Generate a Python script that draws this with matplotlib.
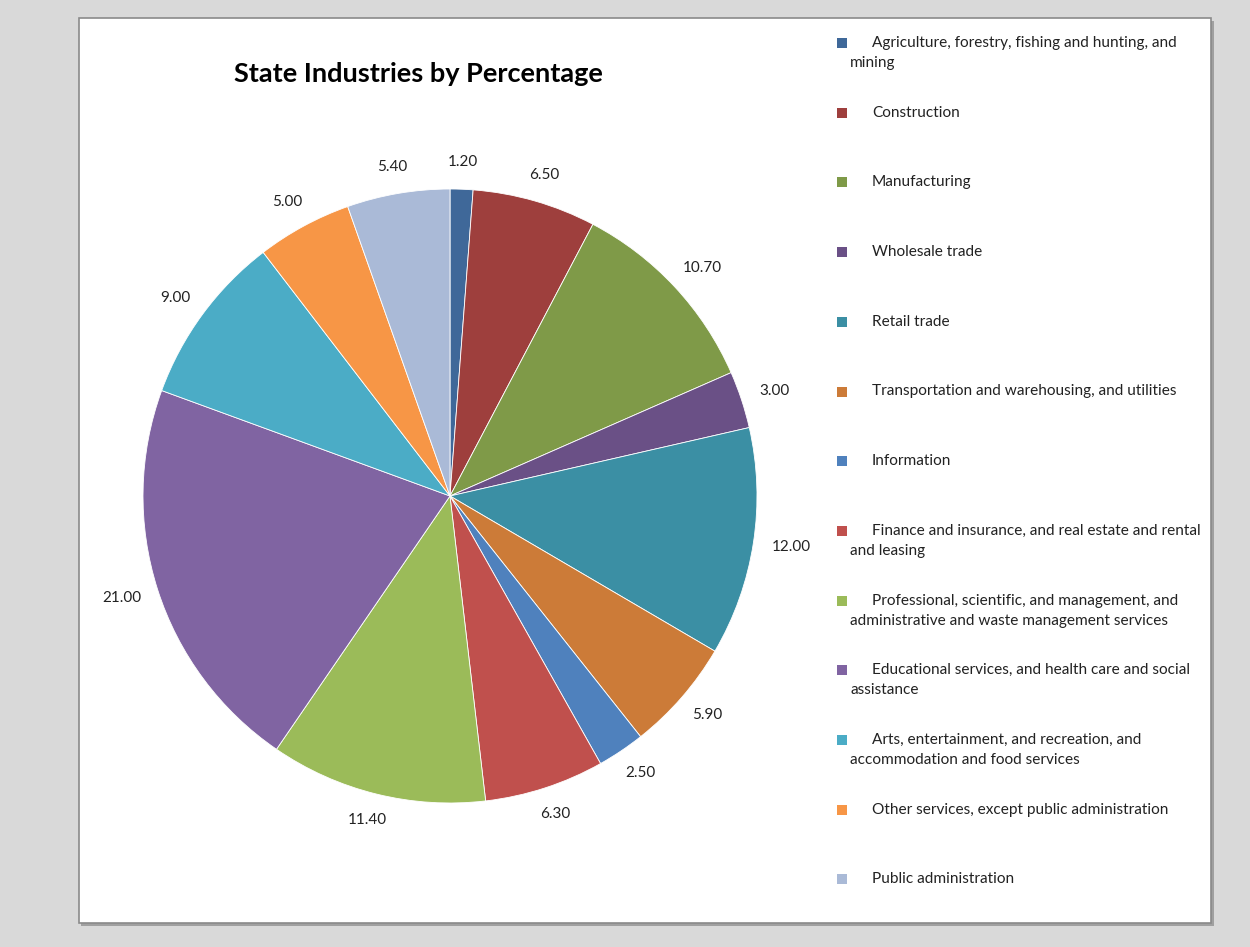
import numpy as np
import matplotlib.pyplot as plt
from matplotlib.patches import Rectangle

# data
industries = [
    "Agriculture, forestry, fishing and hunting, and|mining",
    "Construction",
    "Manufacturing",
    "Wholesale trade",
    "Retail trade",
    "Transportation and warehousing, and utilities",
    "Information",
    "Finance and insurance, and real estate and rental|and leasing",
    "Professional, scientific, and management, and|administrative and waste management services",
    "Educational services, and health care and social|assistance",
    "Arts, entertainment, and recreation, and|accommodation and food services",
    "Other services, except public administration",
    "Public administration",
]
percents = [1.2, 6.5, 10.7, 3.0, 12.0, 5.9, 2.5, 6.3, 11.4, 21.0, 9.0, 5.0, 5.4]
colors = ["#3F6899", "#9E3F3D", "#7F9A48", "#6A5086", "#3B8FA4", "#CC7B38",
          "#4F81BD", "#C0504D", "#9BBB59", "#8064A2", "#4BACC6", "#F79646",
          "#AABAD7"]

W, H = 1250, 947
plt.rcParams['font.family'] = ['Lato', 'DejaVu Sans']
fig = plt.figure(figsize=(W / 100, H / 100), dpi=100, facecolor="#D9D9D9")

def fx(px):
    return px / W

def fy(py):
    return 1 - py / H

# chart area with shadow
fig.patches.append(Rectangle((fx(81), fy(926)), fx(1133), 905 / H, transform=fig.transFigure,
                             facecolor="#A0A0A0", edgecolor="none", zorder=-2))
fig.patches.append(Rectangle((fx(79), fy(923)), fx(1132), 905 / H, transform=fig.transFigure,
                             facecolor="white", edgecolor="#8A8A8A", linewidth=1.2, zorder=-1))

# pie
cx, cy, r = 450, 496, 307
ax = fig.add_axes([fx(cx - r), fy(cy + r), 2 * r / W, 2 * r / H], zorder=2)
ax.patch.set_visible(False)
wedges, _ = ax.pie(percents, colors=colors, startangle=90, counterclock=False,
                   wedgeprops=dict(linewidth=0.6, edgecolor="white"))
ax.set_xlim(-1, 1)
ax.set_ylim(-1, 1)
ax.set_aspect("auto")
ax.axis("off")

# labels sit just outside the edge, pushed out by half their box size
gap, hh = 20, 7
for w, v in zip(wedges, percents):
    ang = np.deg2rad((w.theta1 + w.theta2) / 2)
    s = "%.2f" % v
    hw = 3.6 * len(s)
    x = np.cos(ang) * (r + gap) + hw * np.cos(ang)
    y = np.sin(ang) * (r + gap) + hh * np.sin(ang)
    ax.text(x / r, y / r, s, ha="center", va="center",
            fontsize=11, color="#222222", clip_on=False)

fig.text(fx(418), fy(74), "State Industries by Percentage", ha="center", va="center",
         fontsize=19.5, fontweight="bold", color="black")

# legend
y0, step = 43, 69.7
for i, (name, c) in enumerate(zip(industries, colors)):
    y = y0 + i * step
    fig.patches.append(Rectangle((fx(837), fy(y + 5)), 10 / W, 10 / H, transform=fig.transFigure,
                                 facecolor=c, edgecolor="none"))
    parts = name.split("|")
    fig.text(fx(872), fy(y), parts[0], ha="left", va="center", fontsize=11.1, color="#222222")
    if len(parts) > 1:
        fig.text(fx(850), fy(y + 20), parts[1], ha="left", va="center", fontsize=11.1,
                 color="#222222")

fig.savefig("out.png", dpi=100, facecolor=fig.get_facecolor())
